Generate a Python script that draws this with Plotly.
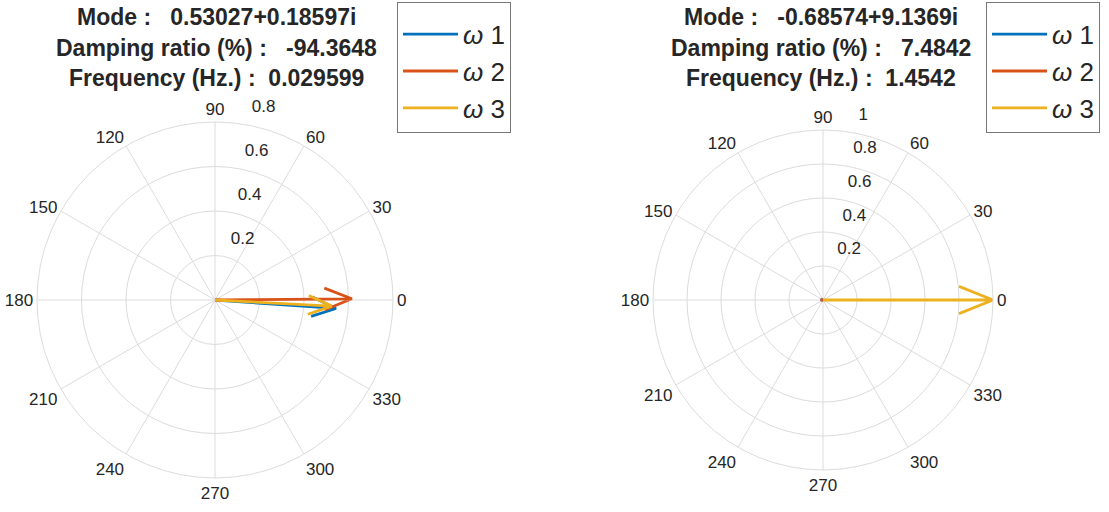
import numpy as np
import plotly.graph_objects as go

# ---------------- data ----------------
series_names = ["<i>ω</i> 1", "<i>ω</i> 2", "<i>ω</i> 3"]
series_colors = ["#0072BD", "#D95319", "#EDB120"]

# left compass: magnitude and angle (deg) of each mode-shape vector
left_mag = [0.545, 0.615, 0.525]
left_ang = [-4.0, 0.5, -3.0]
# right compass
right_mag = [0.012, 0.012, 1.0]
right_ang = [170.0, 180.0, 0.0]

left_title = ["Mode :\u00a0\u00a0\u00a00.53027+0.18597i",
              "Damping ratio (%) :\u00a0\u00a0\u00a0-94.3648",
              "Frequency (Hz.) :\u00a0\u00a00.029599"]
right_title = ["Mode :\u00a0\u00a0\u00a0-0.68574+9.1369i",
               "Damping ratio (%) :\u00a0\u00a0\u00a07.4842",
               "Frequency (Hz.) :\u00a0\u00a01.4542"]

left_rticks = [0.2, 0.4, 0.6, 0.8]
right_rticks = [0.2, 0.4, 0.6, 0.8, 1.0]
angle_ticks = list(range(0, 360, 30))

# ---------------- layout helpers ----------------
W, H = 1109, 512


def arrow_polar(mag, ang_deg):
    """MATLAB compass arrow shape: [0, tip, back-left, tip, back-right]."""
    a = np.array([0, 1, 0.8, 1, 0.8])
    b = np.array([0, 0, 0.08, 0, -0.08])
    z = mag * np.exp(1j * np.deg2rad(ang_deg)) * (a + 1j * b)
    r = np.abs(z)
    th = np.rad2deg(np.angle(z))
    th[0] = ang_deg
    return r, th


def domain(cx, cy, rad):
    return dict(x=[(cx - rad) / W, (cx + rad) / W],
                y=[(H - cy - rad) / H, (H - cy + rad) / H])


fig = go.Figure()

for i in range(3):
    r, th = arrow_polar(left_mag[i], left_ang[i])
    fig.add_trace(go.Scatterpolar(r=r, theta=th, mode="lines", subplot="polar",
                                  name=series_names[i], legend="legend",
                                  legendgroup="L%d" % i,
                                  line=dict(color=series_colors[i], width=2.8)))
for i in range(3):
    r, th = arrow_polar(right_mag[i], right_ang[i])
    fig.add_trace(go.Scatterpolar(r=r, theta=th, mode="lines", subplot="polar2",
                                  name=series_names[i], legend="legend2",
                                  legendgroup="R%d" % i,
                                  line=dict(color=series_colors[i], width=2.8)))

grid = "#dcdcdc"
tickfont = dict(family="Arial", size=17, color="#262626")


def polar_layout(dom, rmax, rticks):
    return dict(
        domain=dom,
        bgcolor="white",
        radialaxis=dict(range=[0, rmax], tickvals=rticks,
                        ticktext=["%g<br>\u00a0<br>\u00a0" % v for v in rticks],
                        angle=81, tickangle=81, showline=False, ticks="",
                        gridcolor=grid, gridwidth=1, tickfont=tickfont,
                        side="clockwise"),
        angularaxis=dict(direction="counterclockwise", rotation=0,
                         tickvals=angle_ticks,
                         ticktext=[str(t) for t in angle_ticks],
                         ticks="", showline=True, linecolor=grid, linewidth=1,
                         gridcolor=grid, gridwidth=1, tickfont=tickfont),
    )


legend_common = dict(font=dict(family="Arial", size=26, color="#262626"),
                     bordercolor="#777777", borderwidth=1, bgcolor="white",
                     xanchor="left", yanchor="top", tracegroupgap=0,
                     itemwidth=55,
                     title=dict(text="\u00a0", font=dict(size=6)))

annotations = []
for title, cx in ((left_title, 216), (right_title, 821)):
    for k, line in enumerate(title):
        yk = [17, 48, 78][k]
        annotations.append(dict(text="<b>%s</b>" % line, x=cx / W, y=1 - yk / H,
                                xref="paper", yref="paper", xanchor="center",
                                yanchor="middle", showarrow=False,
                                font=dict(family="Arial", size=23, color="#262626")))

fig.update_layout(
    width=W, height=H,
    margin=dict(l=0, r=0, t=0, b=0),
    paper_bgcolor="white",
    showlegend=True,
    polar=polar_layout(domain(215, 300, 178), 0.8, left_rticks),
    polar2=polar_layout(domain(823, 300, 170), 1.0, right_rticks),
    legend=dict(x=397 / W, y=1 - 2 / H, **legend_common),
    legend2=dict(x=986 / W, y=1 - 2 / H, **legend_common),
    annotations=annotations,
)

fig.write_html("out.html")
